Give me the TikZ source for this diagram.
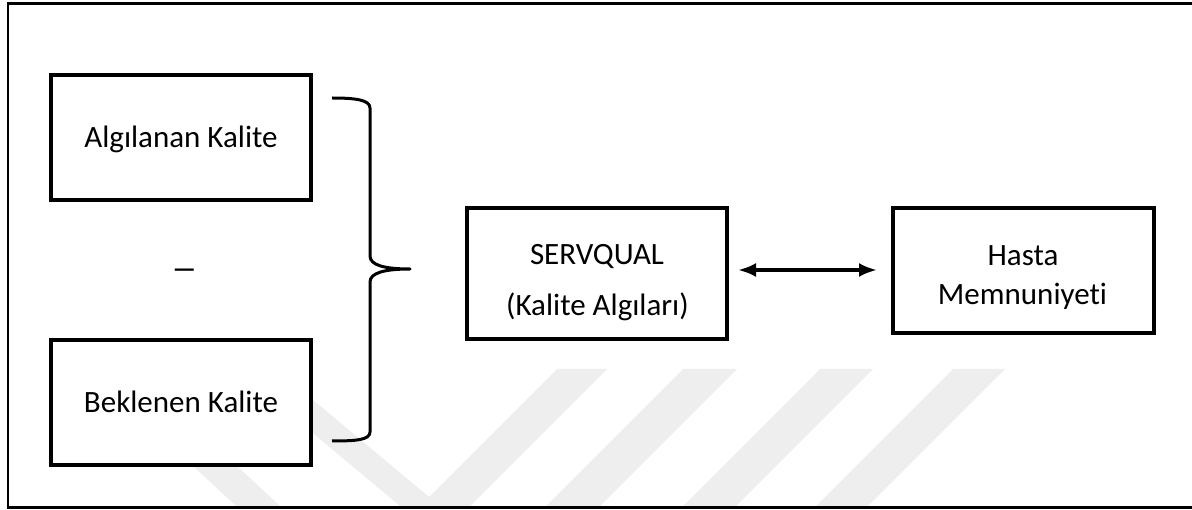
\documentclass[tikz,border=0pt]{standalone}
\usepackage{fontspec}
\setmainfont{Carlito}[Ligatures=NoCommon]
\usetikzlibrary{arrows.meta}
\definecolor{wm}{HTML}{EEEEEE}
\begin{document}
\begin{tikzpicture}[x=1pt,y=-1pt,
  box/.style={draw=black, line width=3.2pt, fill=white, inner sep=0pt, outer sep=0pt},
  lbl/.style={font=\fontsize{31}{38}\selectfont, inner sep=0pt, anchor=base},
  wmband/.style={fill=wm, draw=none},
  framestyle/.style={line width=2.2pt, line cap=rect},
  bracestyle/.style={line width=3pt, line join=round},
  dbl/.style={{Latex[length=18pt,width=14pt]}-{Latex[length=18pt,width=14pt]}, line width=3.5pt}]
\useasboundingbox (0,0) rectangle (1192,510);
% watermark
\fill[wmband] (89,369) -- (133,369) -- (280,506) -- (236,506) -- cycle;
\fill[wmband] (236,369) -- (276,369) -- (440,506) -- (400,506) -- cycle;
\fill[wmband] (557,369) -- (607,369) -- (470,506) -- (420,506) -- cycle;
\fill[wmband] (683,369) -- (737,369) -- (600,506) -- (546,506) -- cycle;
\fill[wmband] (820,369) -- (873,369) -- (736,506) -- (683,506) -- cycle;
\fill[wmband] (953,369) -- (1005,369) -- (868,506) -- (816,506) -- cycle;
% frame
\draw[framestyle] (1200,3.5) -- (8,3.5) -- (8,507.5) -- (1200,507.5);
% boxes
\node[box, minimum width=260pt, minimum height=125pt] (alg) at (181,137.5) {};
\node[box, minimum width=260pt, minimum height=125pt] (bek) at (181,402.5) {};
\node[box, minimum width=260pt, minimum height=131pt] (serv) at (597,273.5) {};
\node[box, minimum width=261pt, minimum height=125pt] (hasta) at (1023.5,270.5) {};
% labels
\node[lbl] (algt) at (181,148) {Algılanan Kalite};
\node[lbl] (bekt) at (181,413) {Beklenen Kalite};
\node[lbl] (servt1) at (597,265) {SERVQUAL};
\node[lbl] (servt2) at (597.5,316) {(Kalite Algıları)};
\node[lbl] (hastat1) at (1023,266) {Hasta};
\node[lbl] (hastat2) at (1022.5,305) {Memnuniyeti};
\node[inner sep=0pt, anchor=base, font=\fontsize{26}{26}\selectfont\bfseries] (minus) at (184.5,277.5) {—};
% brace
\draw[bracestyle] (332,98) .. controls (356,98) and (370,100) .. (370,108) -- (370,256) .. controls (370,265) and (384,269) .. (410,269) .. controls (384,269) and (370,273) .. (370,282) -- (370,432) .. controls (370,440) and (356,441) .. (332,441);
% arrow
\draw[dbl] ([xshift=11pt,yshift=3.5pt]serv.east) -- ([xshift=-16pt,yshift=0.5pt]hasta.west);
\end{tikzpicture}
\end{document}
